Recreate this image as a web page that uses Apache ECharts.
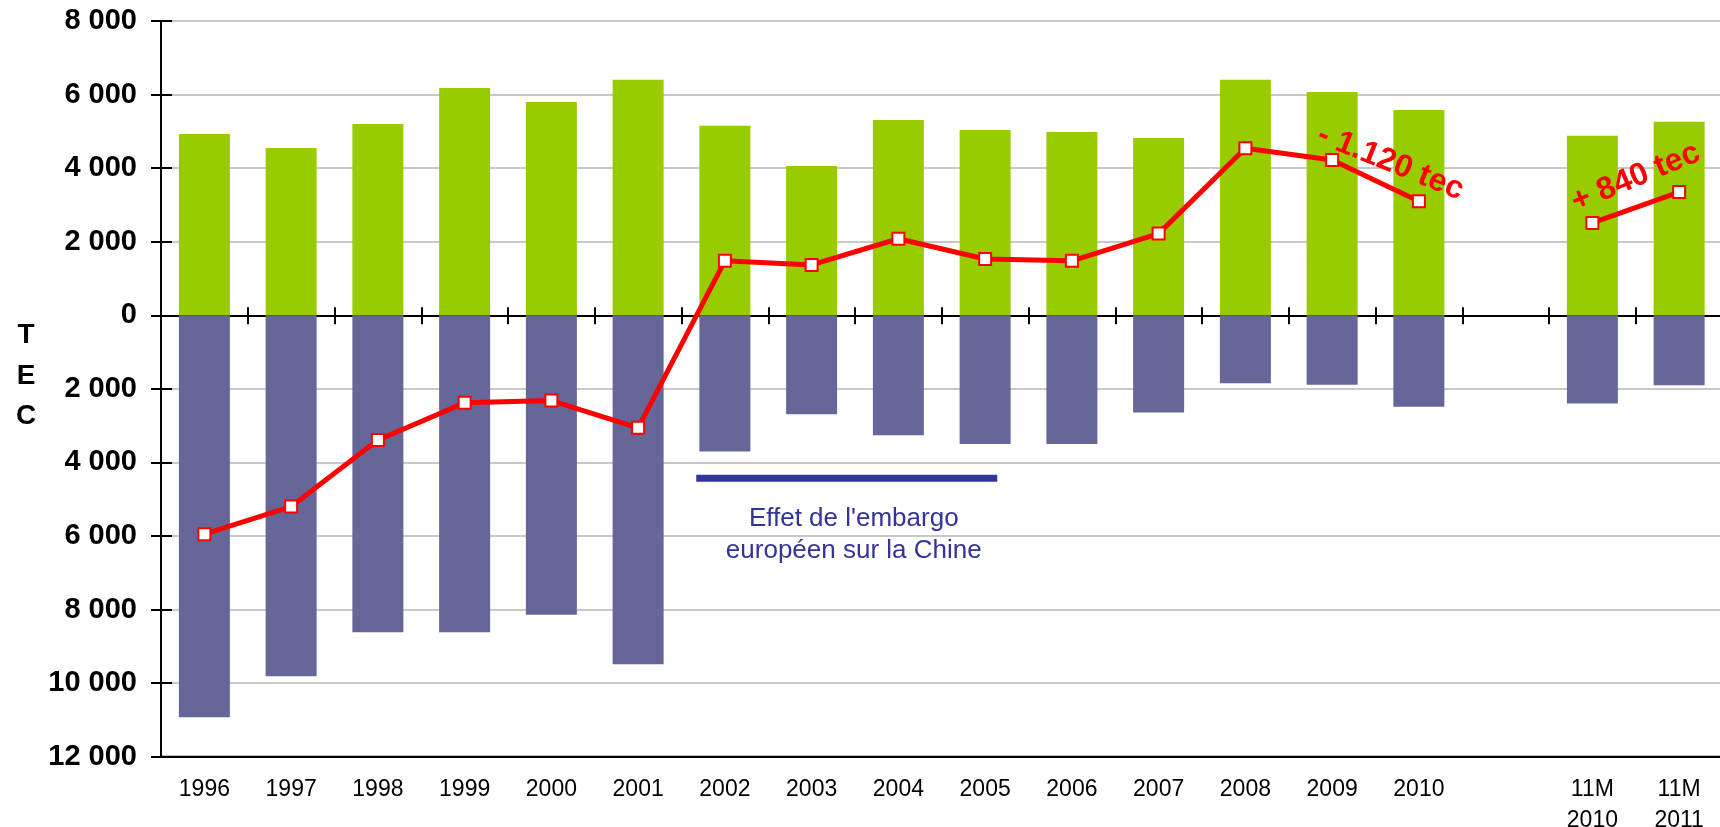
<!DOCTYPE html>
<html>
<head>
<meta charset="utf-8">
<title>Balance commerciale (TEC)</title>
<script src="https://cdn.jsdelivr.net/npm/echarts@6/dist/echarts.min.js"></script>
<style>
  html, body { margin: 0; padding: 0; background: #ffffff; }
  #chart { width: 1720px; height: 827px; }
</style>
</head>
<body>
<div id="chart"></div>
<script>
// Categories: yearly totals, a spacer slot, then the 11-month comparison
const categories = ['1996', '1997', '1998', '1999', '2000', '2001', '2002', '2003',
  '2004', '2005', '2006', '2007', '2008', '2009', '2010', '', '11M\n2010', '11M\n2011'];

// Exports (green, above zero), in TEC
const exportsTec = [4930, 4550, 5200, 6180, 5800, 6400, 5150, 4060,
  5310, 5040, 4980, 4820, 6400, 6070, 5580, null, 4880, 5260];

// Imports (purple, below zero), in TEC
const importsTec = [-10930, -9810, -8620, -8620, -8140, -9490, -3700, -2690,
  -3260, -3500, -3500, -2640, -1850, -1890, -2490, null, -2400, -1900];

// Trade balance (red line), in TEC
const balanceTec = [-5950, -5200, -3390, -2380, -2320, -3060, 1480, 1370,
  2080, 1530, 1480, 2220, 4540, 4220, 3100, null, 2510, 3350];

// Value axis ticks
const yTicks = { min: -12000, max: 8000, step: 2000 };

// Annotations
const embargo = { from: 6, to: 9, level: -4430, lines: ["Effet de l'embargo", 'européen sur la Chine'] };
const noteDrop = { from: 13, to: 14, text: '- 1.120 tec' };
const noteRise = { from: 16, to: 17, text: '+ 840 tec' };

const FONT = '"Liberation Sans", Arial, Helvetica, sans-serif';
const fmtThousands = v => String(Math.abs(v)).replace(/\B(?=(\d{3})+(?!\d))/g, ' ');

const chart = echarts.init(document.getElementById('chart'), null, { renderer: 'canvas' });

const zeroAxisBase = {
  type: 'category',
  data: categories,
  position: 'bottom',
  boundaryGap: true,
  axisLine: { show: true, onZero: true, onZeroAxisIndex: 0, lineStyle: { color: '#000', width: 2 } },
  axisLabel: { show: false },
  splitLine: { show: false }
};

chart.setOption({
  animation: false,
  backgroundColor: '#ffffff',
  grid: {
    left: 161, top: 21, width: 1561.5, height: 735.7,
    outerBoundsMode: 'none', containLabel: false,
    show: true, borderColor: '#000', borderWidth: 2, backgroundColor: 'transparent'
  },
  xAxis: [
    {
      type: 'category',
      data: categories,
      position: 'bottom',
      boundaryGap: true,
      axisLine: { show: true, onZero: false, lineStyle: { color: '#000', width: 2 } },
      axisTick: { show: false },
      splitLine: { show: false },
      axisLabel: {
        interval: 0, margin: 17, color: '#000',
        fontFamily: FONT, fontSize: 23, lineHeight: 31
      }
    },
    Object.assign({}, zeroAxisBase, {
      axisTick: { show: true, interval: 0, inside: false, length: 9, lineStyle: { color: '#000', width: 2 } }
    }),
    Object.assign({}, zeroAxisBase, {
      axisLine: Object.assign({}, zeroAxisBase.axisLine, { show: false }),
      axisTick: { show: true, interval: 0, inside: true, length: 8, lineStyle: { color: '#000', width: 2 } }
    })
  ],
  yAxis: [
    {
      type: 'value',
      position: 'left',
      min: yTicks.min, max: yTicks.max, interval: yTicks.step,
      axisLine: { show: true, lineStyle: { color: '#000', width: 2 } },
      axisTick: { show: true, inside: false, length: 10, lineStyle: { color: '#000', width: 2 } },
      splitLine: { show: true, lineStyle: { color: '#c8c8c8', width: 2 } },
      axisLabel: {
        margin: 24, color: '#000', fontFamily: FONT, fontSize: 29, fontWeight: 'bold',
        formatter: fmtThousands
      }
    },
    {
      type: 'value',
      position: 'left',
      min: yTicks.min, max: yTicks.max, interval: yTicks.step,
      axisLine: { show: false },
      axisTick: { show: true, inside: true, length: 11, lineStyle: { color: '#000', width: 2 } },
      splitLine: { show: false },
      axisLabel: { show: false }
    }
  ],
  series: [
    {
      name: 'Exportations',
      type: 'bar',
      data: exportsTec,
      barWidth: 51,
      barGap: '-100%',
      itemStyle: { color: '#99cc00' },
      z: 2
    },
    {
      name: 'Importations',
      type: 'bar',
      data: importsTec,
      barWidth: 51,
      barGap: '-100%',
      itemStyle: { color: '#666699' },
      z: 2
    },
    {
      name: 'Solde',
      type: 'line',
      data: balanceTec,
      connectNulls: false,
      symbol: 'rect',
      symbolSize: 12,
      showAllSymbol: true,
      lineStyle: { color: '#ff0000', width: 5 },
      itemStyle: { color: '#ffffff', borderColor: '#ff0000', borderWidth: 2 },
      z: 5
    }
  ]
});

// Annotation layer, placed through the chart's own axes
function px(i, v) {
  return chart.convertToPixel({ xAxisIndex: 0, yAxisIndex: 0 }, [i, v]);
}
function drawAnnotations() {
  const band = px(1, 0)[0] - px(0, 0)[0];
  const a = px(embargo.from, embargo.level);
  const b = px(embargo.to, embargo.level);
  const x0 = a[0] - band * 0.33;
  const x1 = b[0] + band * 0.14;
  const mid = (x0 + x1) / 2;

  const d0 = px(noteDrop.from, balanceTec[noteDrop.from]);
  const d1 = px(noteDrop.to, balanceTec[noteDrop.to]);
  const r0 = px(noteRise.from, balanceTec[noteRise.from]);
  const r1 = px(noteRise.to, balanceTec[noteRise.to]);

  const redText = {
    fill: '#ff0000', fontFamily: FONT, fontSize: 32, fontWeight: 'bold',
    align: 'center', verticalAlign: 'middle'
  };

  chart.setOption({
    graphic: [
      {
        type: 'rect', z: 10,
        shape: { x: x0, y: a[1] - 3.5, width: x1 - x0, height: 7 },
        style: { fill: '#333399' }
      },
      {
        type: 'text', z: 10, x: mid + 7, y: a[1] + 57,
        style: {
          text: embargo.lines.join('\n'), fill: '#333399', fontFamily: FONT, fontSize: 26,
          lineHeight: 32, align: 'center', verticalAlign: 'middle'
        }
      },
      {
        type: 'text', z: 10,
        x: (d0[0] + d1[0]) / 2 + 15, y: (d0[1] + d1[1]) / 2 - 18,
        rotation: -22 * Math.PI / 180,
        style: Object.assign({ text: noteDrop.text }, redText)
      },
      {
        type: 'text', z: 10,
        x: (r0[0] + r1[0]) / 2, y: (r0[1] + r1[1]) / 2 - 30,
        rotation: 22.5 * Math.PI / 180,
        style: Object.assign({ text: noteRise.text }, redText)
      },
      {
        type: 'text', z: 10, x: 26, y: 376,
        style: {
          text: 'T\nE\nC', fill: '#000', fontFamily: FONT, fontSize: 28, fontWeight: 'bold',
          lineHeight: 40.5, align: 'center', verticalAlign: 'middle'
        }
      }
    ]
  });
}
drawAnnotations();
</script>
</body>
</html>
